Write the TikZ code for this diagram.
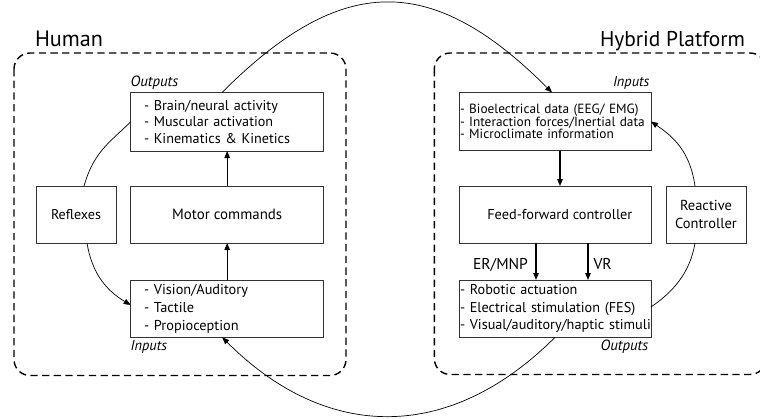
\documentclass[tikz,border=0pt]{standalone}
\usepackage{fontspec}
\setmainfont{PT Sans}
\usetikzlibrary{arrows.meta}
\newlength\fitlen
\newcommand\fitto[3]{\settowidth\fitlen{\fontsize{10pt}{12pt}\selectfont #3}\pgfmathsetmacro\fitsize{10*#1/\fitlen}\fontsize{\fitsize pt}{#2pt}\selectfont}
\begin{document}
\begin{tikzpicture}[x=1pt,y=-1pt,
  box/.style={draw=black!80, line width=0.8pt, anchor=north west, inner sep=0pt, outer sep=0pt},
  dashbox/.style={line width=1.4pt, dash pattern=on 7.3pt off 4.4pt, rounded corners=16pt},
  conn/.style={line width=0.7pt},
  arrowend/.style={-{Triangle[length=7pt,width=5.5pt]}},
  varrow/.style={line width=1.2pt, -{Triangle[length=7pt,width=5.5pt]}},
  lbl/.style={inner sep=0pt, outer sep=0pt},
]
\useasboundingbox (0,0) rectangle (760,418);

% containers
\draw[dashbox] (14,53) rectangle (346,375.5);
\draw[dashbox] (434.3,53) rectangle (766,374.5);
\node[lbl, anchor=base west, font=\fitto{68}{24}{Human}] (human) at (35,46.7) {Human};
\node[lbl, anchor=base east, font=\fitto{145}{24}{Hybrid Platform}] (hybrid) at (745,46.5) {Hybrid Platform};

% human side
\node[box, minimum width=193pt, minimum height=58.5pt, inner xsep=13.3pt, text width=166.4pt, align=left,
      font=\fitto{132}{16.7}{- Brain/neural activity}] (hout) at (130.7,92.5)
  {\mbox{- Brain/neural activity}\\\mbox{- Muscular activation}\\\mbox{- Kinematics \& Kinetics}};
\node[box, minimum width=80pt, minimum height=57pt, font=\fitto{50}{16}{Reflexes}] (refl) at (36,186) {Reflexes};
\node[box, minimum width=193pt, minimum height=57pt, font=\fitto{110}{16}{Motor commands}] (motor) at (130.7,186) {Motor commands\hspace{9.6pt}};
\node[box, minimum width=193pt, minimum height=57.3pt, inner xsep=13.3pt, text width=166.4pt, align=left,
      font=\fitto{103}{18.3}{- Vision/Auditory}] (hin) at (130.7,280)
  {\mbox{- Vision/Auditory}\\\mbox{- Tactile}\\\mbox{- Propioception}};
\node[lbl, anchor=base west, font=\itshape\fitto{47.6}{14}{Outputs}] (houtlbl) at (130.7,86.3) {Outputs};
\node[lbl, anchor=base west, font=\itshape\fitto{36.3}{14}{Inputs}] (hinlbl) at (130.7,350) {Inputs};

% platform side
\node[box, minimum width=192pt, minimum height=58pt, inner xsep=1pt, text width=190pt, align=left,
      font=\fitto{175}{12.8}{- Bioelectrical data (EEG/ EMG)}] (rin) at (459,92.5)
  {\mbox{- Bioelectrical data (EEG/ EMG)}\\\mbox{- Interaction forces/Inertial data}\\\mbox{- Microclimate information}};
\node[box, minimum width=192pt, minimum height=57pt, font=\fitto{145}{16}{Feed-forward controller}] (ff) at (459,186) {\hspace{9.6pt}Feed-forward controller};
\node[box, minimum width=80pt, minimum height=57pt, align=center, font=\fitto{61.7}{18.3}{Controller}] (react) at (666,186) {Reactive\\Controller};
\node[box, minimum width=192pt, minimum height=57.3pt, inner xsep=1pt, text width=190pt, align=left,
      font=\fitto{189}{17.5}{- Visual/auditory/haptic stimuli}] (rout) at (459,280)
  {\mbox{- Robotic actuation}\\\mbox{- Electrical stimulation (FES)}\\\mbox{- Visual/auditory/haptic stimuli}};
\node[lbl, anchor=base east, font=\itshape\fitto{36.3}{14}{Inputs}] (rinlbl) at (649.3,86.5) {Inputs};
\node[lbl, anchor=base east, font=\itshape\fitto{47.6}{14}{Outputs}] (routlbl) at (648.3,350) {Outputs};

% vertical arrows
\draw[varrow] (motor.north) -- (hout.south);
\draw[varrow] (hin.north) -- (motor.south);
\draw[varrow] ([xshift=5pt]rin.south) -- ([xshift=5pt]ff.north);
\draw[varrow] ([xshift=-19pt]ff.south) -- ([xshift=-19pt]rout.north);
\draw[varrow] ([xshift=33pt]ff.south) -- ([xshift=33pt]rout.north);
\node[lbl, anchor=base east, font=\fitto{55}{16}{ER/MNP}] (ermnp) at (528,269) {ER/MNP};
\node[lbl, anchor=base west, font=\fitto{55}{16}{ER/MNP}] (vr) at (593.5,269) {VR};

% curved connectors
\draw[conn, arrowend] ([xshift=-5.2pt]hout.north) .. controls +(120,-120) and +(-120,-120) .. ([xshift=-3pt]rin.north);
\draw[conn, arrowend] (rout.south) .. controls +(-105,105) and +(105,105) .. ([xshift=-5pt]hin.south);
\draw[conn] ([xshift=8pt]refl.north) .. controls +(10,-35) and +(-20,20) .. (hout.west);
\draw[conn, arrowend] ([xshift=11pt]refl.south) .. controls +(5,30) and +(-25,-15) .. ([yshift=3.6pt]hin.west);
\draw[conn, arrowend] ([xshift=-11pt]react.north) .. controls +(-5,-35) and +(22,15) .. (rin.east);
\draw[conn] ([xshift=-11pt]react.south) .. controls +(-5,30) and +(22,-15) .. ([yshift=1.7pt]rout.east);
\end{tikzpicture}
\end{document}
